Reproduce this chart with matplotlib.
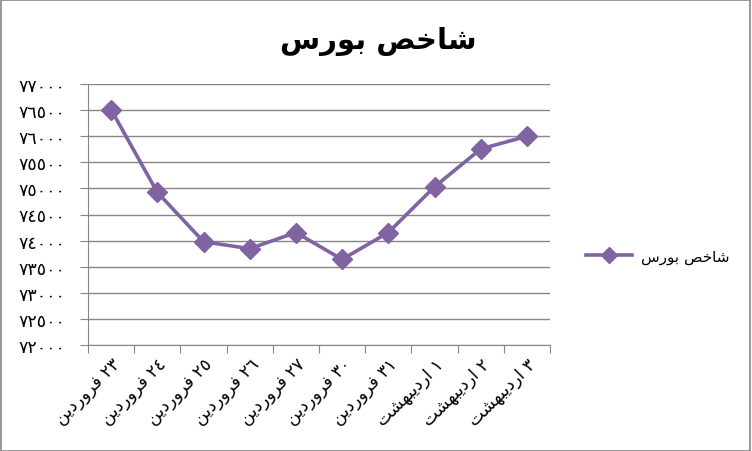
import matplotlib
matplotlib.use("Agg")
import matplotlib.pyplot as plt
from matplotlib.patches import Rectangle

plt.rcParams['font.family'] = ['DejaVu Sans']

# Arabic text is written in visual (left-to-right) order with presentation forms,
# since matplotlib does no bidi/shaping
TITLE = "\uFEB1\uFEAD\uFEEE\uFE91 \uFEBA\uFEA7\uFE8E\uFEB7"   # شاخص بورس
FARVARDIN = "\uFEE6\uFEF3\uFEA9\uFEAD\uFEED\uFEAE\uFED3"        # فروردين
ORDIBEHESHT = "\uFE96\uFEB8\uFEEC\uFE92\uFEF3\uFEA9\uFEAD\uFE8D"  # ارديبهشت

days = [23, 24, 25, 26, 27, 30, 31, 1, 2, 3]
months = [FARVARDIN] * 7 + [ORDIBEHESHT] * 3
values = [76510, 74925, 73980, 73845, 74155, 73640, 74155, 75030, 75755, 76000]
yticks = list(range(72000, 77001, 500))

AR_DIGITS = str.maketrans("0123456789", "\u0660\u0661\u0662\u0663\u0664\u0665\u0666\u0667\u0668\u0669")


def ar(n):
    return str(n).translate(AR_DIGITS)


labels = [m + " " + ar(d) for m, d in zip(months, days)]
purple = "#8064A2"
gray = "#868686"

fig = plt.figure(figsize=(7.52, 4.52), dpi=100)
ax = fig.add_axes([88 / 752, 1 - 346 / 452, 462 / 752, 261 / 452])

x = list(range(len(values)))
ax.plot(x, values, color=purple, lw=2.6, marker="D", ms=10, mfc=purple, mec=purple,
        label=TITLE, zorder=3)

ax.set_xlim(-0.5, len(values) - 0.5)
ax.set_ylim(72000, 77000)
ax.set_yticks(yticks)
ax.set_yticklabels([ar(v) for v in yticks], fontsize=12.5)
ax.yaxis.grid(True, color=gray, lw=1)
ax.set_axisbelow(True)

ax.set_xticks([i - 0.5 for i in range(len(values) + 1)])
ax.set_xticklabels([])
ax.set_xticks(x, minor=True)
ax.set_xticklabels(labels, minor=True, rotation=45, ha="right", va="top",
                   rotation_mode="anchor", fontsize=12.5)
ax.tick_params(axis="x", which="minor", length=0, pad=7)
ax.tick_params(axis="both", which="major", length=6, color=gray, direction="out")
ax.tick_params(axis="y", pad=10)

for s in ["top", "right"]:
    ax.spines[s].set_visible(False)
for s in ["left", "bottom"]:
    ax.spines[s].set_color(gray)

fig.text(0.503, 1 - 41 / 452, TITLE, ha="center", va="center", fontsize=21,
         fontweight="bold")

fig.legend(loc="center left", bbox_to_anchor=(572 / 752, 1 - 257 / 452), frameon=False,
           fontsize=11, handlelength=3, handletextpad=0.6, markerscale=0.8)

fig.patches.append(Rectangle((0.001, 0.001), 0.997, 0.997, transform=fig.transFigure,
                             fill=False, ec=gray, lw=1.2))

fig.savefig("out.png", dpi=100)
